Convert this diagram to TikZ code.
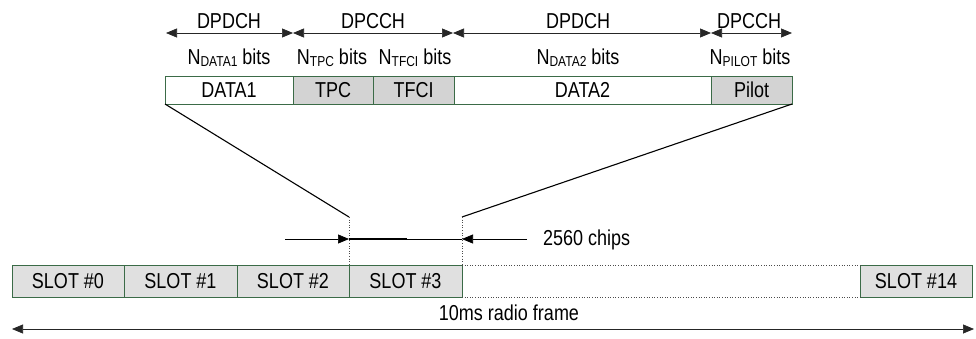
\documentclass[tikz,border=0pt]{standalone}
\usepackage{fontspec}
\setmainfont{Liberation Sans}
\usetikzlibrary{arrows.meta}
\definecolor{bordgreen}{HTML}{3B6B47}
\definecolor{darkfill}{HTML}{D3D3D3}
\definecolor{slotfill}{HTML}{E0E0E0}
\newcommand{\sbs}[1]{\raisebox{-1.5pt}{\fontsize{12}{12}\selectfont #1}}
\newcommand{\tx}[1]{\scalebox{1}[1.2]{#1}}
\begin{document}
\begin{tikzpicture}[x=1pt,y=-1pt,
  every node/.style={font=\fontsize{18}{20}\selectfont, inner sep=0pt},
  fieldbox/.style={draw=bordgreen, line width=0.8pt, fill=white},
  grayfield/.style={fieldbox, fill=darkfill},
  slotbox/.style={draw=bordgreen, line width=0.8pt, fill=slotfill},
  dimarrow/.style={{Triangle[length=11pt,width=9pt]}-{Triangle[length=11pt,width=9pt]}, line width=0.7pt, draw=black!85},
  onearrow/.style={-{Triangle[length=11pt,width=9pt]}, line width=0.7pt},
  slant/.style={line width=1.1pt},
  dotline/.style={dotted, line width=0.6pt, draw=black!70}
]
\useasboundingbox (0,0) rectangle (976,338);

% top field boxes
\draw[fieldbox]  (165,76) rectangle node (d1) {\tx{DATA1}} (293,104);
\draw[grayfield] (293,76) rectangle node (tpc) {\tx{TPC}} (373,104);
\draw[grayfield] (373,76) rectangle node (tfci) {\tx{TFCI}} (454,104);
\draw[fieldbox]  (454,76) rectangle node (d2) {\tx{DATA2}} (711,104);
\draw[grayfield] (711,76) rectangle node (pil) {\tx{Pilot}} (792,104);

% coordinates for top arrows
\coordinate (a0) at (166,33);
\coordinate (a1) at (293,33);
\coordinate (a2) at (453,33);
\coordinate (a3) at (711,33);
\coordinate (a4) at (792,33);
\draw[dimarrow] (a0) -- (a1);
\draw[dimarrow] (a1) -- (a2);
\draw[dimarrow] (a2) -- (a3);
\draw[dimarrow] (a3) -- (a4);

\node (l1) at (229,21) {\tx{DPDCH}};
\node (l2) at (373,21) {\tx{DPCCH}};
\node (l3) at (578,21) {\tx{DPDCH}};
\node (l4) at (749,21) {\tx{DPCCH}};

\node (n1) at (229,58) {\tx{N\sbs{DATA1} bits}};
\node (n2) at (332,58) {\tx{N\sbs{TPC} bits}};
\node (n3) at (415,58) {\tx{N\sbs{TFCI} bits}};
\node (n4) at (578,58) {\tx{N\sbs{DATA2} bits}};
\node (n5) at (750,58) {\tx{N\sbs{PILOT} bits}};

% slot row
\draw[slotbox] (12,265) rectangle node (s0) {\tx{SLOT \#0}} (124,297);
\draw[slotbox] (124,265) rectangle node (s1) {\tx{SLOT \#1}} (237,297);
\draw[slotbox] (237,265) rectangle node (s2) {\tx{SLOT \#2}} (349,297);
\draw[slotbox] (349,265) rectangle node (s3) {\tx{SLOT \#3}} (462,297);
\draw[slotbox] (860,265) rectangle node (s14) {\tx{SLOT \#14}} (972,297);
\draw[dotline] (462,265) -- (860,265);
\draw[dotline] (462,297) -- (860,297);

% zoom lines
\coordinate (zl) at (349,217);
\coordinate (zr) at (462,217);
\draw[slant] (165,104) -- (zl);
\draw[slant] (792,104) -- (zr);
\draw[dotline] (zl) -- (349,265);
\draw[dotline] (zr) -- (462,265);

% 2560 chips
\coordinate (cl) at (285,239);
\coordinate (cm) at (349,239);
\coordinate (cn) at (407,239);
\coordinate (cr) at (527,239);
\coordinate (cq) at (462,239);
\draw[onearrow] (cl) -- (cm);
\draw[line width=1.2pt] (cm) -- (cn);
\draw[line width=0.6pt] (cn) -- (cq);
\draw[onearrow] (cr) -- (cq);
\node[anchor=west] (chips) at (543,240) {\tx{2560 chips}};

% radio frame
\coordinate (f0) at (12,329);
\coordinate (f1) at (974,329);
\draw[dimarrow] (f0) -- (f1);
\node (fr) at (509,313) {\tx{10ms radio frame}};
\end{tikzpicture}
\end{document}
